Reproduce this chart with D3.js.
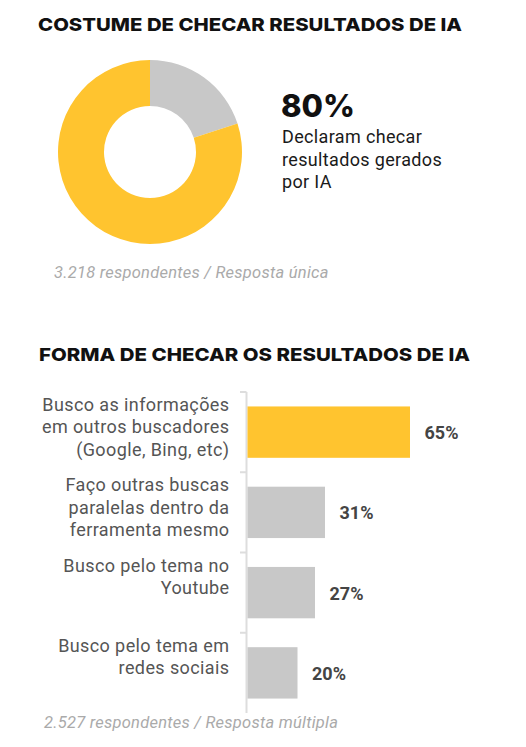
<!DOCTYPE html>
<html>
<head>
<meta charset="utf-8">
<script src="https://cdn.jsdelivr.net/npm/d3@7"></script>
<style>
  body { margin: 0; background: #fff; }
  svg { display: block; }
</style>
</head>
<body>
<div id="chart"></div>
<script>
// Donut data
const donutLabels = ["Checam", "Não checam"];
const donutValues = [80, 20];

// Bar data
const barCategories = [
  ["Busco as informações", "em outros buscadores", "(Google, Bing, etc)"],
  ["Faço outras buscas", "paralelas dentro da", "ferramenta mesmo"],
  ["Busco pelo tema no", "Youtube"],
  ["Busco pelo tema em", "redes sociais"]
];
const barValues = [65, 31, 27, 20];
const barHighlight = [true, false, false, false];

const W = 526, H = 747;
const yellow = "#ffc42f", gray = "#c8c8c8";
const titleFont = "Inter, 'DejaVu Sans', sans-serif";
const bodyFont = "Roboto, 'Noto Sans', sans-serif";

const svg = d3.select("#chart").append("svg")
  .attr("width", W)
  .attr("height", H);

// ---- Section 1: donut ----
svg.append("text")
  .attr("x", 38).attr("y", 31)
  .attr("textLength", 424).attr("lengthAdjust", "spacingAndGlyphs")
  .style("font-family", titleFont).style("font-weight", 800)
  .style("font-size", "18px").style("fill", "#111")
  .text("COSTUME DE CHECAR RESULTADOS DE IA");

// pie goes clockwise from top: gray first, then yellow
const pie = d3.pie().sort(null).value(d => d.v);
const donutData = [
  { k: donutLabels[1], v: donutValues[1], c: gray },
  { k: donutLabels[0], v: donutValues[0], c: yellow }
];
const arc = d3.arc().innerRadius(46).outerRadius(92);

svg.append("g")
  .attr("transform", "translate(150,152)")
  .selectAll("path")
  .data(pie(donutData))
  .join("path")
  .attr("d", arc)
  .attr("fill", d => d.data.c);

svg.append("text")
  .attr("x", 281).attr("y", 117)
  .attr("textLength", 74).attr("lengthAdjust", "spacingAndGlyphs")
  .style("font-family", titleFont).style("font-weight", 800)
  .style("font-size", "31px").style("fill", "#111")
  .text(donutValues[0] + "%");

["Declaram checar", "resultados gerados", "por IA"].forEach((t, i) => {
  svg.append("text")
    .attr("x", 282).attr("y", 143 + i * 22.7)
    .style("font-family", bodyFont)
    .style("font-size", "18px").style("letter-spacing", "0.35px")
    .style("fill", "#1a1a1a")
    .text(t);
});

svg.append("text")
  .attr("x", 54).attr("y", 278)
  .style("font-family", bodyFont).style("font-style", "italic")
  .style("font-size", "16.5px").style("letter-spacing", "0.25px")
  .style("fill", "#aaa")
  .text("3.218 respondentes / Resposta única");

// ---- Section 2: bars ----
svg.append("text")
  .attr("x", 39).attr("y", 361)
  .attr("textLength", 431).attr("lengthAdjust", "spacingAndGlyphs")
  .style("font-family", titleFont).style("font-weight", 800)
  .style("font-size", "18px").style("fill", "#111")
  .text("FORMA DE CHECAR OS RESULTADOS DE IA");

const x = d3.scaleLinear()
  .domain([0, 100])
  .range([247, 497]);

const y = d3.scaleBand()
  .domain(d3.range(barValues.length))
  .range([392, 713])
  .paddingInner(0.36)
  .paddingOuter(0.18);

const step = y.step();
const off = step * 0.18;

// axis line with tick marks at category boundaries
const axis = svg.append("g");
axis.append("line")
  .attr("x1", x(0) - 0.5).attr("x2", x(0) - 0.5)
  .attr("y1", y.range()[0]).attr("y2", y.range()[1])
  .attr("stroke", "#ddd").attr("stroke-width", 2);
d3.range(barValues.length).forEach(i => {
  axis.append("line")
    .attr("x1", x(0) - 7).attr("x2", x(0) - 0.5)
    .attr("y1", y(i) - off).attr("y2", y(i) - off)
    .attr("stroke", "#ddd").attr("stroke-width", 2);
});

svg.append("g")
  .selectAll("rect")
  .data(barValues)
  .join("rect")
  .attr("x", x(0) + 0.5)
  .attr("y", (d, i) => y(i))
  .attr("width", d => x(d) - x(0))
  .attr("height", y.bandwidth())
  .attr("fill", (d, i) => barHighlight[i] ? yellow : gray);

svg.append("g")
  .selectAll("text")
  .data(barValues)
  .join("text")
  .attr("x", d => x(d) + 15)
  .attr("y", (d, i) => y(i) + y.bandwidth() / 2 + 7)
  .style("font-family", bodyFont).style("font-weight", 700)
  .style("font-size", "18px").style("fill", "#444")
  .text(d => d + "%");

barCategories.forEach((lines, i) => {
  const t = svg.append("text")
    .attr("text-anchor", "end")
    .style("font-family", bodyFont)
    .style("font-size", "18px").style("letter-spacing", "0.4px")
    .style("fill", "#555");
  lines.forEach((ln, j) => {
    t.append("tspan")
      .attr("x", 229.5)
      .attr("y", y(i) - off + 19 + j * 22.3)
      .text(ln);
  });
});

svg.append("text")
  .attr("x", 44).attr("y", 728)
  .style("font-family", bodyFont).style("font-style", "italic")
  .style("font-size", "16.5px").style("letter-spacing", "0.25px")
  .style("fill", "#aaa")
  .text("2.527 respondentes / Resposta múltipla");
</script>
</body>
</html>
